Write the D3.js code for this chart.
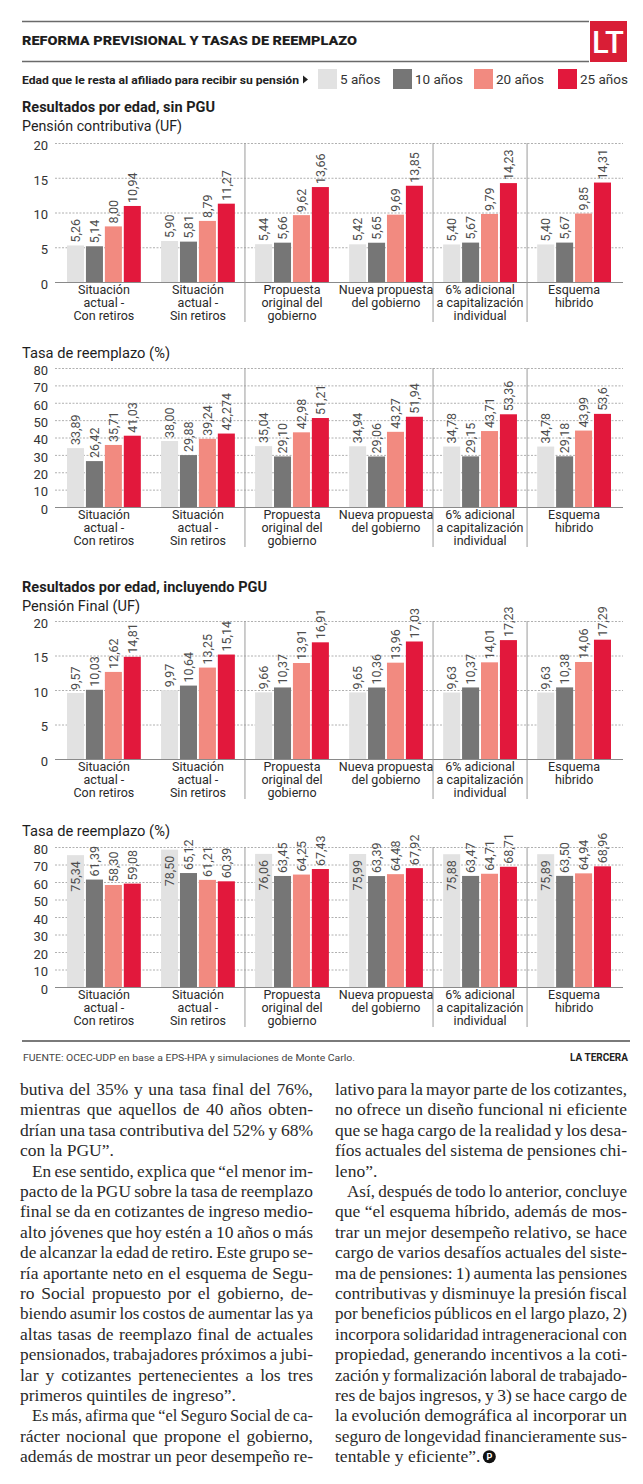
<!DOCTYPE html>
<html>
<head>
<meta charset="utf-8">
<script src="https://cdn.jsdelivr.net/npm/d3@7"></script>
<style>
  body { margin: 0; background: #fff; }
  svg { display: block; }
</style>
</head>
<body>
<svg id="chart" width="643" height="1484"></svg>
<script>
// categories (one array per label line)
const categories = [
  ["Situación", "actual -", "Con retiros"],
  ["Situación", "actual -", "Sin retiros"],
  ["Propuesta", "original del", "gobierno"],
  ["Nueva propuesta", "del gobierno"],
  ["6% adicional", "a capitalización", "individual"],
  ["Esquema", "hibrido"]
];
const seriesNames = ["5 años", "10 años", "20 años", "25 años"];
const seriesColors = ["#e2e2e2", "#767676", "#f28a80", "#e2183c"];
const dividers = [2, 4, 5]; // a vertical rule before these groups

const ticksUF = [0, 5, 10, 15, 20];
const ticksPct = [0, 10, 20, 30, 40, 50, 60, 70, 80];

// Resultados por edad, sin PGU - Pensión contributiva (UF)
const contrib5  = ["5,26", "5,90", "5,44", "5,42", "5,40", "5,40"];
const contrib10 = ["5,14", "5,81", "5,66", "5,65", "5,67", "5,67"];
const contrib20 = ["8,00", "8,79", "9,62", "9,69", "9,79", "9,85"];
const contrib25 = ["10,94", "11,27", "13,66", "13,85", "14,23", "14,31"];

// sin PGU - Tasa de reemplazo (%)
const tasaSin5  = ["33,89", "38,00", "35,04", "34,94", "34,78", "34,78"];
const tasaSin10 = ["26,42", "29,88", "29,10", "29,06", "29,15", "29,18"];
const tasaSin20 = ["35,71", "39,24", "42,98", "43,27", "43,71", "43,99"];
const tasaSin25 = ["41,03", "42,274", "51,21", "51,94", "53,36", "53,6"];

// incluyendo PGU - Pensión Final (UF)
const final5  = ["9,57", "9,97", "9,66", "9,65", "9,63", "9,63"];
const final10 = ["10,03", "10,64", "10,37", "10,36", "10,37", "10,38"];
const final20 = ["12,62", "13,25", "13,91", "13,96", "14,01", "14,06"];
const final25 = ["14,81", "15,14", "16,91", "17,03", "17,23", "17,29"];

// incluyendo PGU - Tasa de reemplazo (%)
const tasaPgu5  = ["75,34", "78,50", "76,06", "75,99", "75,88", "75,89"];
const tasaPgu10 = ["61,39", "65,12", "63,45", "63,39", "63,47", "63,50"];
const tasaPgu20 = ["58,30", "61,21", "64,25", "64,48", "64,71", "64,94"];
const tasaPgu25 = ["59,08", "60,39", "67,43", "67,92", "68,71", "68,96"];

const charts = [
  { head: "Resultados por edad, sin PGU", headY: 112, headW: 193,
    title: "Pensión contributiva (UF)", titleY: 131, titleW: 160,
    top: 143, height: 139, ticks: ticksUF, rows: [contrib5, contrib10, contrib20, contrib25] },
  { title: "Tasa de reemplazo (%)", titleY: 358, titleW: 148,
    top: 368, height: 139, ticks: ticksPct, rows: [tasaSin5, tasaSin10, tasaSin20, tasaSin25] },
  { head: "Resultados por edad, incluyendo PGU", headY: 592, headW: 245,
    title: "Pensión Final (UF)", titleY: 611, titleW: 118,
    top: 621, height: 138, ticks: ticksUF, rows: [final5, final10, final20, final25] },
  { title: "Tasa de reemplazo (%)", titleY: 836, titleW: 148,
    top: 847, height: 140, ticks: ticksPct, rows: [tasaPgu5, tasaPgu10, tasaPgu20, tasaPgu25] }
];

const SANS = "Roboto, 'Open Sans', sans-serif";
const SERIF = "'Liberation Serif', 'DejaVu Serif', serif";
const svg = d3.select("#chart");

function num(s) { return +s.replace(",", "."); }

// squeeze / stretch a text to a given width
function fit(sel, w) {
  const nat = sel.node().getComputedTextLength();
  if (Math.abs(nat - w) > 2) sel.attr("textLength", w).attr("lengthAdjust", "spacingAndGlyphs");
  return sel;
}

// header
svg.append("line").attr("x1", 22).attr("x2", 589).attr("y1", 21.5).attr("y2", 21.5)
  .attr("stroke", "#6a6a6a").attr("stroke-width", 1.5);
svg.append("line").attr("x1", 22).attr("x2", 589).attr("y1", 61.5).attr("y2", 61.5)
  .attr("stroke", "#6a6a6a").attr("stroke-width", 1.5);
fit(svg.append("text").attr("x", 22).attr("y", 45)
  .attr("font-family", SANS).attr("font-weight", 900).attr("font-size", 13).attr("fill", "#1e1e1e")
  .text("REFORMA PREVISIONAL Y TASAS DE REEMPLAZO"), 335);
svg.append("rect").attr("x", 590).attr("y", 21).attr("width", 37).attr("height", 41).attr("fill", "#d91e36");
fit(svg.append("text").attr("x", 592).attr("y", 53)
  .attr("font-family", SANS).attr("font-weight", 500).attr("font-size", 31).attr("fill", "#fff")
  .text("LT"), 32);

// legend
fit(svg.append("text").attr("x", 22).attr("y", 84)
  .attr("font-family", SANS).attr("font-weight", 700).attr("font-size", 11.5).attr("fill", "#222")
  .text("Edad que le resta al afiliado para recibir su pensión"), 277);
svg.append("path").attr("d", "M303,75.5 L308,79.5 L303,83.5 Z").attr("fill", "#222");
const legendX = [318, 393, 474, 558];
const leg = svg.append("g").selectAll("g").data(seriesNames).join("g")
  .attr("transform", (d, i) => `translate(${legendX[i]},69)`);
leg.append("rect").attr("width", 19).attr("height", 20).attr("fill", (d, i) => seriesColors[i]);
leg.append("text").attr("x", 22).attr("y", 15)
  .attr("font-family", SANS).attr("font-size", 13.5).attr("fill", "#333").text(d => d);

// shared horizontal scales
const x0 = d3.scaleBand().domain(d3.range(categories.length)).range([56, 622])
  .paddingInner(0.215).paddingOuter(0.117);
const x1 = d3.scaleBand().domain(d3.range(seriesNames.length)).range([0, x0.bandwidth()])
  .paddingInner(0.1);

charts.forEach(c => {
  const g = svg.append("g");
  const max = d3.max(c.ticks);
  const y = d3.scaleLinear().domain([0, max]).range([c.top + c.height, c.top]);

  if (c.head) {
    fit(g.append("text").attr("x", 22).attr("y", c.headY)
      .attr("font-family", SANS).attr("font-weight", 700).attr("font-size", 15).attr("fill", "#1e1e1e")
      .text(c.head), c.headW);
  }
  fit(g.append("text").attr("x", 22).attr("y", c.titleY)
    .attr("font-family", SANS).attr("font-size", 15).attr("fill", "#1e1e1e")
    .text(c.title), c.titleW);

  // axis with dotted gridlines
  const ax = g.append("g").attr("transform", "translate(55,0)")
    .call(d3.axisLeft(y).tickValues(c.ticks).tickSize(-568).tickPadding(7).tickFormat(d3.format("d")));
  ax.select(".domain").remove();
  ax.selectAll(".tick line").attr("stroke", "#b0b0b0").attr("stroke-dasharray", "2,1.5");
  ax.selectAll(".tick").filter(d => d === 0).select("line")
    .attr("stroke", "#8a8a8a").attr("stroke-dasharray", null);
  ax.selectAll(".tick text").attr("font-family", SANS).attr("font-size", 13).attr("fill", "#333")
    .attr("dy", "0.48em");

  // vertical dividers
  g.selectAll(".divider").data(dividers).join("line")
    .attr("x1", d => x0(d) - (x0.step() - x0.bandwidth()) / 2)
    .attr("x2", d => x0(d) - (x0.step() - x0.bandwidth()) / 2)
    .attr("y1", c.top).attr("y2", c.top + c.height + 40)
    .attr("stroke", "#9a9a9a").attr("stroke-width", 1);

  // bars
  const cells = categories.flatMap((cat, i) =>
    seriesNames.map((s, k) => ({ i, k, label: c.rows[k][i], v: num(c.rows[k][i]) })));
  const grp = g.append("g");
  grp.selectAll("rect").data(cells).join("rect")
    .attr("x", d => x0(d.i) + x1(d.k))
    .attr("width", x1.bandwidth())
    .attr("y", d => y(d.v))
    .attr("height", d => y(0) - y(d.v))
    .attr("fill", d => seriesColors[d.k]);

  // rotated value labels
  grp.selectAll("text").data(cells).join("text")
    .attr("transform", d => {
      const inside = d.v / max > 0.9;
      const cx = x0(d.i) + x1(d.k) + x1.bandwidth() / 2;
      const cy = inside ? y(d.v) + 6 : y(d.v) - 3;
      return `translate(${cx},${cy}) rotate(-90)`;
    })
    .attr("text-anchor", d => d.v / max > 0.9 ? "end" : "start")
    .attr("dominant-baseline", "central")
    .attr("font-family", SANS).attr("font-size", 12.5).attr("fill", "#4d4d4d")
    .text(d => d.label);

  // category labels
  const lab = g.selectAll(".cat").data(categories).join("text")
    .attr("text-anchor", "middle")
    .attr("font-family", SANS).attr("font-size", 12.5).attr("fill", "#2a2a2a");
  lab.selectAll("tspan").data((d, i) => d.map(t => ({ t, i }))).join("tspan")
    .attr("x", d => x0(d.i) + x0.bandwidth() / 2)
    .attr("y", (d, j) => y(0) + 11.5 + j * 13)
    .text(d => d.t);
});

// footer
svg.append("line").attr("x1", 22).attr("x2", 630).attr("y1", 1041).attr("y2", 1041)
  .attr("stroke", "#7a7a7a").attr("stroke-width", 2);
fit(svg.append("text").attr("x", 23).attr("y", 1061)
  .attr("font-family", SANS).attr("font-size", 9.5).attr("fill", "#444")
  .text("FUENTE: OCEC-UDP en base a EPS-HPA y simulaciones de Monte Carlo."), 332);
svg.append("text").attr("x", 628).attr("y", 1061).attr("text-anchor", "end")
  .attr("font-family", SANS).attr("font-weight", 700).attr("font-size", 10).attr("fill", "#222")
  .text("LA TERCERA");

// article text: [text, justified, indented]
const leftCol = [
  ["butiva del 35% y una tasa final del 76%,", 1, 0],
  ["mientras que aquellos de 40 años obten-", 1, 0],
  ["drían una tasa contributiva del 52% y 68%", 1, 0],
  ["con la PGU”.", 0, 0],
  ["En ese sentido, explica que “el menor im-", 1, 1],
  ["pacto de la PGU sobre la tasa de reemplazo", 1, 0],
  ["final se da en cotizantes de ingreso medio-", 1, 0],
  ["alto jóvenes que hoy estén a 10 años o más", 1, 0],
  ["de alcanzar la edad de retiro. Este grupo se-", 1, 0],
  ["ría aportante neto en el esquema de Segu-", 1, 0],
  ["ro Social propuesto por el gobierno, de-", 1, 0],
  ["biendo asumir los costos de aumentar las ya", 1, 0],
  ["altas tasas de reemplazo final de actuales", 1, 0],
  ["pensionados, trabajadores próximos a jubi-", 1, 0],
  ["lar y cotizantes pertenecientes a los tres", 1, 0],
  ["primeros quintiles de ingreso”.", 0, 0],
  ["Es más, afirma que “el Seguro Social de ca-", 1, 1],
  ["rácter nocional que propone el gobierno,", 1, 0],
  ["además de mostrar un peor desempeño re-", 1, 0]
];
const rightCol = [
  ["lativo para la mayor parte de los cotizantes,", 1, 0],
  ["no ofrece un diseño funcional ni eficiente", 1, 0],
  ["que se haga cargo de la realidad y los desa-", 1, 0],
  ["fíos actuales del sistema de pensiones chi-", 1, 0],
  ["leno”.", 0, 0],
  ["Así, después de todo lo anterior, concluye", 1, 1],
  ["que “el esquema híbrido, además de mos-", 1, 0],
  ["trar un mejor desempeño relativo, se hace", 1, 0],
  ["cargo de varios desafíos actuales del siste-", 1, 0],
  ["ma de pensiones: 1) aumenta las pensiones", 1, 0],
  ["contributivas y disminuye la presión fiscal", 1, 0],
  ["por beneficios públicos en el largo plazo, 2)", 1, 0],
  ["incorpora solidaridad intrageneracional con", 1, 0],
  ["propiedad, generando incentivos a la coti-", 1, 0],
  ["zación y formalización laboral de trabajado-", 1, 0],
  ["res de bajos ingresos, y 3) se hace cargo de", 1, 0],
  ["la evolución demográfica al incorporar un", 1, 0],
  ["seguro de longevidad financieramente sus-", 1, 0],
  ["tentable y eficiente”.", 0, 0]
];

// justified lines: one tspan per word, placed by measured widths
function column(lines, left, width) {
  let lastEnd = 0, lastY = 0;
  lines.forEach((ln, i) => {
    const [txt, just, ind] = ln;
    const x = left + (ind ? 12 : 0);
    const w = width - (ind ? 12 : 0);
    const yy = 1095 + i * 20.4;
    const t = svg.append("text").attr("y", yy)
      .attr("font-family", SERIF).attr("font-size", 17.5).attr("fill", "#2a2a2a");
    const words = txt.split(" ");
    const spans = words.map(wd => t.append("tspan").text(wd));
    const widths = spans.map(s => s.node().getComputedTextLength());
    const total = d3.sum(widths);
    const n = words.length - 1;
    const minGap = 3.2;
    let gap = just && n > 0 ? (w - total) / n : 4.4;
    let scale = 1;
    if (gap < minGap && just) {
      // too long: keep a small space and narrow the glyphs
      gap = minGap;
      scale = (w - gap * n) / total;
    }
    let cx = x;
    spans.forEach((s, k) => {
      s.attr("x", cx);
      if (scale < 1) s.attr("textLength", widths[k] * scale).attr("lengthAdjust", "spacingAndGlyphs");
      cx += widths[k] * scale + gap;
    });
    lastEnd = cx - gap; lastY = yy;
  });
  return [lastEnd, lastY];
}
column(leftCol, 20, 293);
const [ex, ey] = column(rightCol, 335, 292);
svg.append("circle").attr("cx", ex + 9).attr("cy", ey - 5.5).attr("r", 6.5).attr("fill", "#111");
svg.append("text").attr("x", ex + 9).attr("y", ey - 2).attr("text-anchor", "middle")
  .attr("font-family", SANS).attr("font-weight", 700).attr("font-size", 9).attr("fill", "#fff").text("P");
</script>
</body>
</html>
